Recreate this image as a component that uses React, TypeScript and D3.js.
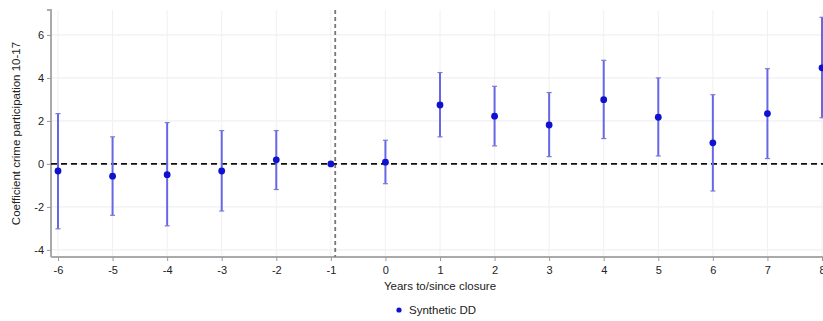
import React, { useRef, useEffect } from 'react';
import * as d3 from 'd3';

// event time (years to/since closure)
const years = [-6, -5, -4, -3, -2, -1, 0, 1, 2, 3, 4, 5, 6, 7, 8];
const coef = [-0.33, -0.57, -0.5, -0.33, 0.19, 0, 0.08, 2.74, 2.22, 1.81, 2.99, 2.17, 0.98, 2.34, 4.47];
const ciLow = [-3.02, -2.39, -2.88, -2.19, -1.19, null, -0.92, 1.26, 0.84, 0.34, 1.18, 0.37, -1.26, 0.25, 2.15];
const ciHigh = [2.34, 1.26, 1.92, 1.55, 1.55, null, 1.1, 4.25, 3.61, 3.32, 4.82, 4.0, 3.22, 4.43, 6.82];
const yTicks = [-4, -2, 0, 2, 4, 6];
const closureLine = -0.92;

const W = 823;
const H = 321;

function App() {
  const svgRef = useRef<SVGSVGElement>(null);

  useEffect(() => {
    const svg = d3.select(svgRef.current);
    svg.selectAll('*').remove();

    const left = 51, top = 10, bottom = 257;
    const font = 'Liberation Sans, Arial, sans-serif';

    const x = d3.scaleLinear().domain([-6, 8]).range([58, 822]);
    const y = d3.scaleLinear().domain([-4.33, 7.16]).range([bottom, top]);

    // grid
    svg.append('g')
      .selectAll('line')
      .data(yTicks)
      .join('line')
      .attr('x1', left).attr('x2', W)
      .attr('y1', d => y(d)).attr('y2', d => y(d))
      .attr('stroke', '#ececf0').attr('stroke-width', 1);
    svg.append('g')
      .selectAll('line')
      .data(years)
      .join('line')
      .attr('x1', d => x(d)).attr('x2', d => x(d))
      .attr('y1', top).attr('y2', bottom)
      .attr('stroke', '#f0f0f3').attr('stroke-width', 1);

    // y axis
    const yAxis = d3.axisLeft(y).tickValues(yTicks).tickSize(4).tickFormat(d => String(d));
    const gy = svg.append('g').attr('transform', `translate(${left},0)`).call(yAxis);
    gy.select('.domain').attr('d', `M-4,${top}H0V${bottom}`).attr('stroke', '#aaa').attr('stroke-width', 2);

    // x axis
    const xAxis = d3.axisBottom(x).tickValues(years).tickSize(4).tickFormat(d => String(d));
    const gx = svg.append('g').attr('transform', `translate(0,${bottom})`).call(xAxis);
    gx.select('.domain').attr('d', `M${left},0H${W}`).attr('stroke', '#aaa').attr('stroke-width', 2);

    [gx, gy].forEach(g => {
      g.selectAll('.tick line').attr('stroke', '#999');
      g.selectAll('.tick text')
        .attr('fill', '#222')
        .style('font-family', font)
        .style('font-size', '11px');
    });
    gx.selectAll('.tick text').attr('dy', '0.95em');

    // reference lines
    svg.append('line')
      .attr('x1', x(closureLine)).attr('x2', x(closureLine))
      .attr('y1', top).attr('y2', bottom)
      .attr('stroke', '#777').attr('stroke-width', 1.8)
      .attr('stroke-dasharray', '4,3');
    svg.append('line')
      .attr('x1', left).attr('x2', W)
      .attr('y1', y(0)).attr('y2', y(0))
      .attr('stroke', '#111').attr('stroke-width', 1.6)
      .attr('stroke-dasharray', '6,4');

    // confidence intervals
    const rows = years.map((yr, i) => ({ yr, c: coef[i], lo: ciLow[i], hi: ciHigh[i] }));
    const ci = rows.filter(r => r.lo !== null && r.hi !== null);
    svg.append('g')
      .selectAll('line')
      .data(ci)
      .join('line')
      .attr('x1', d => x(d.yr)).attr('x2', d => x(d.yr))
      .attr('y1', d => y(d.lo as number)).attr('y2', d => y(d.hi as number))
      .attr('stroke', '#6767e6').attr('stroke-width', 2);
    ['lo', 'hi'].forEach(k => {
      svg.append('g')
        .selectAll('line')
        .data(ci)
        .join('line')
        .attr('x1', d => x(d.yr) - 2.5).attr('x2', d => x(d.yr) + 2.5)
        .attr('y1', d => y((d as any)[k])).attr('y2', d => y((d as any)[k]))
        .attr('stroke', '#7a7ad0').attr('stroke-width', 1.2);
    });

    // points
    svg.append('g')
      .selectAll('circle')
      .data(rows)
      .join('circle')
      .attr('cx', d => x(d.yr)).attr('cy', d => y(d.c))
      .attr('r', 3.4)
      .attr('fill', '#1010d0');

    // axis titles
    svg.append('text')
      .attr('transform', `translate(20,${(top + bottom) / 2}) rotate(-90)`)
      .attr('text-anchor', 'middle')
      .style('font-family', font).style('font-size', '11.5px')
      .attr('fill', '#222')
      .text('Coefficient crime participation 10-17');
    svg.append('text')
      .attr('x', 440).attr('y', 290)
      .attr('text-anchor', 'middle')
      .style('font-family', font).style('font-size', '11.5px')
      .attr('fill', '#222')
      .text('Years to/since closure');

    // legend
    svg.append('circle').attr('cx', 399).attr('cy', 310).attr('r', 2.6).attr('fill', '#1010d0');
    svg.append('text')
      .attr('x', 409).attr('y', 314)
      .style('font-family', font).style('font-size', '11.5px')
      .attr('fill', '#222')
      .text('Synthetic DD');
  }, []);

  return (
    <svg ref={svgRef} width={W} height={H}
      style={{ position: 'absolute', left: 0, top: 0, background: '#fff' }} />
  );
}

export default App;
